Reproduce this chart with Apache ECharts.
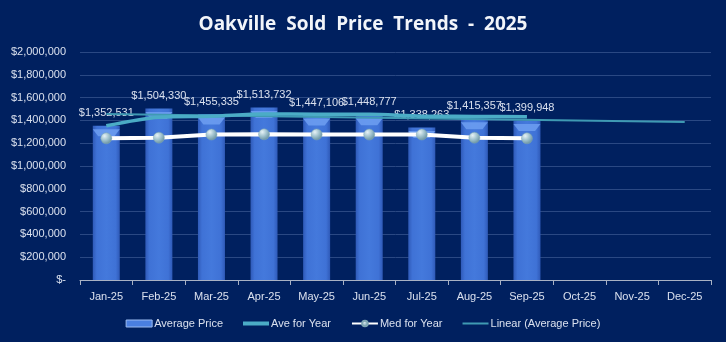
<!DOCTYPE html>
<html>
<head>
<meta charset="utf-8">
<script src="https://cdn.jsdelivr.net/npm/echarts@6/dist/echarts.min.js"></script>
<style>
  html, body { margin: 0; padding: 0; background: #00205f; }
  #chart { width: 726px; height: 342px; }
</style>
</head>
<body>
<div id="chart"></div>
<script>
// Monthly sold price figures for Oakville, 2025
const months = ['Jan-25', 'Feb-25', 'Mar-25', 'Apr-25', 'May-25', 'Jun-25',
                'Jul-25', 'Aug-25', 'Sep-25', 'Oct-25', 'Nov-25', 'Dec-25'];
const averagePrice = [1352531, 1504330, 1455335, 1513732, 1447106, 1448777,
                      1338263, 1415357, 1399948, null, null, null];
const aveForYear = [1352500, 1428400, 1437400, 1456500, 1454600, 1453600,
                    1437200, 1434900, 1431000, null, null, null];
const medForYear = [1243000, 1248000, 1276000, 1278000, 1277000, 1276000,
                    1276000, 1248000, 1243000, null, null, null];
// Linear trend of the average price, Jan to Dec end points
const trendLine = [1455700, null, null, null, null, null,
                   null, null, null, null, null, 1386700];
const yTicks = { min: 0, max: 2000000, step: 200000 };

const textColor = '#d9e0ee';
const fontFamily = 'Liberation Sans, Arial, sans-serif';

function money(v) {
  if (v === 0) return '$-';
  return '$' + Math.round(v).toLocaleString('en-US');
}

const chart = echarts.init(document.getElementById('chart'), null, { renderer: 'canvas' });

chart.setOption({
  backgroundColor: '#00205f',
  animation: false,
  textStyle: { fontFamily: fontFamily },
  title: {
    text: 'Oakville  Sold  Price  Trends  -  2025',
    left: 'center',
    top: 10,
    textStyle: { color: '#f2f5fa', fontSize: 19, fontWeight: 'bold', fontFamily: 'Open Sans, sans-serif' }
  },
  grid: { left: 80, right: 15, top: 52, bottom: 62, containLabel: false },
  legend: {
    bottom: 8,
    left: 'center',
    itemGap: 20,
    itemWidth: 26,
    itemHeight: 7,
    symbolKeepAspect: true,
    textStyle: { color: textColor, fontSize: 11, padding: [0, 0, 0, -3] },
    data: [
      { name: 'Average Price', icon: 'rect',
        itemStyle: { color: '#4a7fe0', borderColor: '#9bbcf2', borderWidth: 1 } },
      { name: 'Ave for Year', icon: 'path://M0,0 L26,0 L26,4 L0,4 Z',
        itemStyle: { color: '#4bacc6' } },
      { name: 'Med for Year' },
      { name: 'Linear (Average Price)', icon: 'path://M0,0 L26,0 L26,2 L0,2 Z',
        itemStyle: { color: '#3f9ab3' } }
    ]
  },
  xAxis: {
    type: 'category',
    data: months,
    boundaryGap: true,
    axisLine: { lineStyle: { color: '#a9b2c4', width: 1 } },
    axisTick: { show: true, length: 5, interval: 0, lineStyle: { color: '#a9b2c4' } },
    axisLabel: { color: textColor, fontSize: 11, margin: 11, interval: 0 }
  },
  yAxis: {
    type: 'value',
    min: yTicks.min,
    max: yTicks.max,
    interval: yTicks.step,
    axisLine: { show: false },
    axisTick: { show: false },
    axisLabel: { color: textColor, fontSize: 11, margin: 14, formatter: money },
    splitLine: { lineStyle: { color: '#2a4883', width: 1 } }
  },
  series: [
    {
      name: 'Average Price',
      type: 'bar',
      data: averagePrice,
      barWidth: 27,
      z: 2,
      itemStyle: {
        color: new echarts.graphic.LinearGradient(0, 0, 1, 0, [
          { offset: 0, color: '#2f5ab8' },
          { offset: 0.15, color: '#3f72d6' },
          { offset: 0.5, color: '#4479dc' },
          { offset: 0.85, color: '#3f72d6' },
          { offset: 1, color: '#2f5ab8' }
        ])
      },
      label: {
        show: true,
        position: 'top',
        distance: 7,
        color: textColor,
        fontSize: 11,
        formatter: p => money(p.value)
      }
    },
    {
      // bevelled cap on top of each bar
      name: 'Average Price cap',
      type: 'pictorialBar',
      data: averagePrice,
      symbol: 'path://M0,0 L20,0 L16,5 L4,5 Z',
      symbolSize: [27, 7],
      symbolPosition: 'end',
      symbolOffset: [0, '50%'],
      z: 3,
      silent: true,
      itemStyle: { color: '#6b9cf0', opacity: 0.9 }
    },
    {
      name: 'Linear (Average Price)',
      type: 'line',
      data: trendLine,
      connectNulls: true,
      symbol: 'none',
      z: 4,
      lineStyle: { color: '#3f9ab3', width: 2 },
      itemStyle: { color: '#3f9ab3' }
    },
    {
      name: 'Ave for Year',
      type: 'line',
      data: aveForYear,
      symbol: 'none',
      smooth: 0.3,
      z: 5,
      lineStyle: { color: '#4bacc6', width: 3.5 },
      itemStyle: { color: '#4bacc6' }
    },
    {
      name: 'Med for Year',
      type: 'line',
      data: medForYear,
      symbol: 'circle',
      symbolSize: 11,
      z: 6,
      lineStyle: { color: '#ffffff', width: 4 },
      itemStyle: {
        color: new echarts.graphic.RadialGradient(0.35, 0.3, 0.8, [
          { offset: 0, color: '#e6f2f6' },
          { offset: 0.5, color: '#9cbfcb' },
          { offset: 1, color: '#5d8796' }
        ]),
        borderColor: '#7fa6b3',
        borderWidth: 0.5
      }
    }
  ]
});
</script>
</body>
</html>
